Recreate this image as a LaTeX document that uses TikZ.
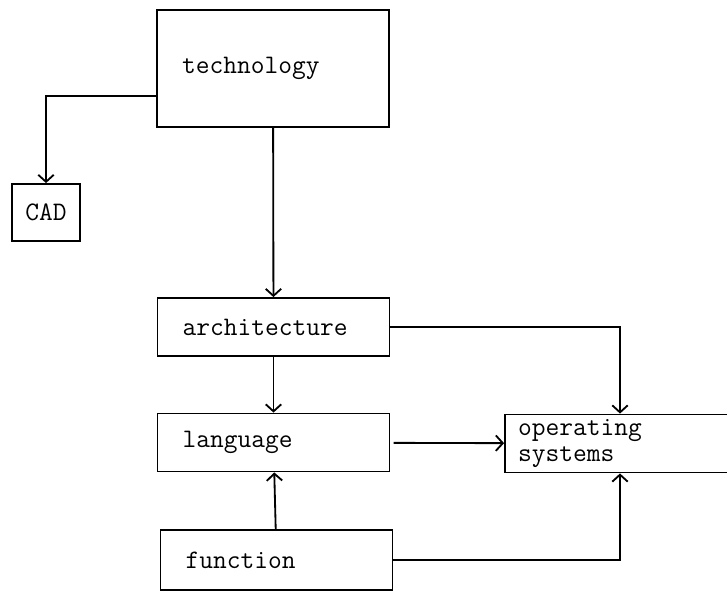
\documentclass[tikz,border=0pt]{standalone}
\usepackage{tikz}
\usetikzlibrary{arrows.meta, positioning}

\begin{document}
\begin{tikzpicture}[
    box/.style={rectangle, draw, line width=1.3pt, text width=#1, align=left, inner xsep=0.625cm, minimum height=1.45cm, font=\ttfamily\fontsize{19}{18.5}\selectfont},
    arr/.style={-{Straight Barb[length=5pt, width=11pt]}, line width=1.3pt}
]
\useasboundingbox (0, 0) rectangle (18.175, -14.775);

% Main column
\node[box=4.55cm, minimum height=2.925cm] (tech) at (6.825, -1.7125) {technology};
\node[box=4.55cm] (arch) at (6.8375, -8.175) {architecture};
\node[box=4.55cm] (lang) at (6.8375, -11.0625) {language};
\node[box=4.55cm, minimum height=1.5cm] (func) at (6.9125, -14.0) {function};
% Side boxes
\node[draw, line width=1.3pt, minimum width=1.7cm, minimum height=1.425cm, font=\ttfamily\fontsize{19}{18.5}\selectfont] (cad) at (1.15, -5.3125) {CAD};
\node[box=5.1cm, inner xsep=0.325cm] (os) at (15.5, -11.0875) {operating\\systems};

% Arrows
\draw[arr] ([yshift=-0.6875cm]tech.west) -| (cad.north);
\draw[arr] (tech) -- (arch);
\draw[arr] (arch) -- (lang);
\draw[arr] (func) -- (lang);
\draw[arr] (arch.east) -| (os.north);
\draw[arr, shorten <=0.08cm] (lang) -- (os);
\draw[arr] (func.east) -| (os.south);

\end{tikzpicture}
\end{document}
